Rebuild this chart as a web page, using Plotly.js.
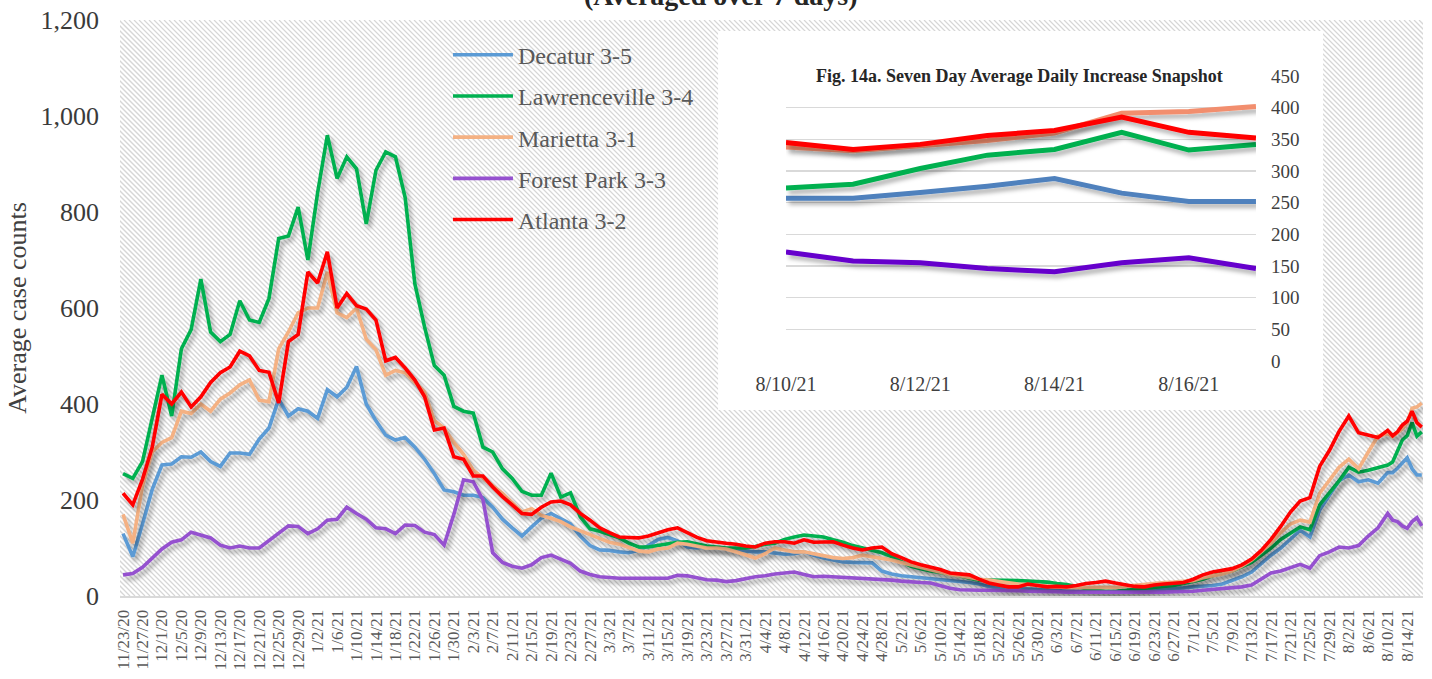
<!DOCTYPE html>
<html><head><meta charset="utf-8">
<script src="https://cdn.plot.ly/plotly-3.0.1.min.js"></script>
<style>html,body{margin:0;padding:0;background:#fff;}#chart{width:1432px;height:679px;}</style>
</head><body><div id="chart"></div>
<script>
// ---- categories ----
const seriesNames = ['Decatur 3-5','Lawrenceville 3-4','Marietta 3-1','Forest Park 3-3','Atlanta 3-2'];
const startDate = '2020-11-23';   // first category, one value every 2 days up to 8/8/21
const stepDays = 2;
const snapDates = ['2021-08-10','2021-08-11','2021-08-12','2021-08-13','2021-08-14','2021-08-15','2021-08-16','2021-08-17'];

// ---- main series (7-day averages, every 2 days 11/23/20 .. 8/8/21) ----
const decatur = [130,82,150,222,273,275,290,289,300,280,270,298,298,295,327,350,410,375,390,385,370,430,415,435,478,400,365,335,325,330,310,285,255,221,217,210,210,205,185,160,142,125,144,162,172,160,150,125,105,96,95,92,90,95,105,118,122,115,102,100,102,100,98,96,94,92,92,90,87,88,92,85,79,75,71,70,70,69,52,46,42,40,38,36,34,33,30,28,25,20,17,16,15,14,13,12,11,10,10,9,9,9,10,10,11,12,13,14,15,17,19,20,22,25,32,40,50,68,85,100,118,137,123,179,210,240,252,238,242,235];
const lawrenceville = [255,245,280,370,460,375,515,555,660,550,530,545,615,575,570,620,745,750,810,700,840,960,870,915,890,775,887,925,915,830,650,560,480,460,395,385,381,310,300,265,245,218,210,210,256,206,215,165,140,135,128,121,110,102,102,105,108,112,113,108,104,102,100,100,100,103,108,110,118,123,127,125,123,117,112,105,100,95,90,82,73,62,57,52,49,46,42,37,33,33,33,33,32,31,30,29,26,24,20,15,12,10,10,12,14,17,18,20,22,26,30,35,42,48,52,60,70,85,100,118,132,144,138,190,215,240,268,258,262,268];
const marietta = [170,110,230,300,320,330,385,380,400,385,410,423,440,450,408,405,515,550,590,600,600,675,590,580,600,535,513,460,470,465,445,425,365,350,320,295,262,245,230,214,195,175,182,168,162,155,144,135,128,120,112,108,100,94,92,98,100,110,108,104,100,100,98,92,85,79,88,100,96,92,92,88,84,80,78,80,85,82,78,75,70,65,60,56,50,45,42,38,35,33,30,27,25,24,22,20,19,18,18,18,17,17,18,20,22,24,27,28,29,30,32,38,42,46,52,62,75,92,110,132,150,158,154,214,240,268,285,265,300,333];
const forestPark = [44,47,60,78,98,112,117,133,127,121,106,100,104,100,100,115,130,146,145,130,140,158,160,185,172,160,142,140,130,148,147,133,128,106,170,242,238,200,90,70,62,58,65,80,85,77,68,52,45,40,38,37,37,37,37,37,37,43,42,38,34,33,30,32,36,40,42,46,48,50,45,40,41,40,38,37,37,35,34,33,31,29,28,27,22,16,13,12,12,12,12,12,11,10,10,9,9,8,8,7,7,7,7,7,8,8,8,8,9,9,10,12,14,15,17,19,23,35,48,52,60,66,58,84,92,102,100,105,125,142];
const atlanta = [214,190,243,310,420,400,425,394,415,445,465,477,510,500,470,466,402,530,545,675,652,717,600,630,605,598,575,490,497,475,450,415,346,350,290,285,250,250,227,207,190,172,170,185,196,198,190,172,158,142,132,123,122,121,125,132,138,142,132,122,115,112,110,108,104,102,110,113,113,110,117,112,112,113,106,100,96,100,102,88,80,71,65,60,55,48,46,44,35,27,23,19,19,25,22,19,20,19,22,26,28,31,27,23,20,19,23,25,26,28,35,44,50,54,57,65,77,95,118,145,175,198,205,270,303,343,375,340,335,330];

// ---- snapshot series (daily, 8/10/21 .. 8/17/21) ----
const decaturSnap = [257,257,266,276,288,265,252,252];
const lawrencevilleSnap = [273,279,304,325,334,361,333,342];
const mariettaSnap = [338,332,340,348,360,391,394,402];
const forestParkSnap = [172,158,155,146,141,155,163,146];
const atlantaSnap = [345,334,342,356,364,385,361,352];

// ---- tick labels ----
const tickLabels = ['11/23/20','11/27/20','12/1/20','12/5/20','12/9/20','12/13/20','12/17/20','12/21/20','12/25/20','12/29/20','1/2/21','1/6/21','1/10/21','1/14/21','1/18/21','1/22/21','1/26/21','1/30/21','2/3/21','2/7/21','2/11/21','2/15/21','2/19/21','2/23/21','2/27/21','3/3/21','3/7/21','3/11/21','3/15/21','3/19/21','3/23/21','3/27/21','3/31/21','4/4/21','4/8/21','4/12/21','4/16/21','4/20/21','4/24/21','4/28/21','5/2/21','5/6/21','5/10/21','5/14/21','5/18/21','5/22/21','5/26/21','5/30/21','6/3/21','6/7/21','6/11/21','6/15/21','6/19/21','6/23/21','6/27/21','7/1/21','7/5/21','7/9/21','7/13/21','7/17/21','7/21/21','7/25/21','7/29/21','8/2/21','8/6/21','8/10/21','8/14/21'];
const snapTickLabels = ['8/10/21','8/12/21','8/14/21','8/16/21'];

// ---- helpers ----
function labelToISO(l){const p=l.split('/').map(Number);return '20'+String(p[2]).padStart(2,'0')+'-'+String(p[0]).padStart(2,'0')+'-'+String(p[1]).padStart(2,'0');}
function dateSeq(start,n,step){const t0=Date.parse(start+'T00:00:00Z');const o=[];for(let i=0;i<n;i++){o.push(new Date(t0+i*step*86400000).toISOString().slice(0,10));}return o;}
function hatch(w,h){const c=document.createElement('canvas');c.width=w;c.height=h;const g=c.getContext('2d');g.fillStyle='#ffffff';g.fillRect(0,0,w,h);g.strokeStyle='#d6d6d6';g.lineWidth=1.25;for(let k=-h;k<w+h;k+=5){g.beginPath();g.moveTo(k,0);g.lineTo(k+h,h);g.stroke();}return c.toDataURL('image/png');}

const mainDates = dateSeq(startDate, decatur.length, stepDays).concat(snapDates);
const FONT = 'Liberation Serif, DejaVu Serif, serif';

const mainSeries = [decatur.concat(decaturSnap), lawrenceville.concat(lawrencevilleSnap), marietta.concat(mariettaSnap), forestPark.concat(forestParkSnap), atlanta.concat(atlantaSnap)];
const mainColors = ['#5B9BD5','#00B050','#F4B183','#9551CF','#FF0000'];
const snapSeries = [decaturSnap, lawrencevilleSnap, mariettaSnap, forestParkSnap, atlantaSnap];
const snapColors = ['#4F81BD','#00B050','#F28E6E','#6600CC','#FF0000'];

const traces = [];
mainSeries.forEach((ys,i)=>{traces.push({type:'scatter',mode:'lines',name:seriesNames[i],x:mainDates,y:ys,legendgroup:'g'+i,line:{color:mainColors[i],width:3.6},hoverinfo:'skip'});});
snapSeries.forEach((ys,i)=>{traces.push({type:'scatter',mode:'lines',name:seriesNames[i],x:snapDates,y:ys,xaxis:'x2',yaxis:'y2',showlegend:false,line:{color:snapColors[i],width:5},hoverinfo:'skip'});});

const W=1303,H=576;
const layout = {
  width:1432,height:679,
  margin:{l:120,r:9,t:20,b:83},
  paper_bgcolor:'#ffffff',plot_bgcolor:'rgba(0,0,0,0)',
  font:{family:FONT,color:'#404040'},
  showlegend:true,
  legend:{x:0.2517,y:0.978,xanchor:'left',yanchor:'top',bgcolor:'rgba(0,0,0,0)',font:{family:FONT,size:24,color:'#595959'},itemwidth:60,traceorder:'grouped',tracegroupgap:7},
  xaxis:{type:'date',range:['2020-11-22 09:00','2021-08-17 06:00'],tickmode:'array',tickvals:tickLabels.map(labelToISO),ticktext:tickLabels,tickangle:-90,tickfont:{family:FONT,size:17,color:'#595959'},showgrid:false,zeroline:false,showline:true,linecolor:'#d9d9d9',linewidth:2,ticks:'',ticklabelstandoff:5,fixedrange:true},
  yaxis:{range:[0,1200],dtick:200,tickformat:',',showgrid:false,zeroline:false,showline:false,ticks:'',tickfont:{family:FONT,size:26,color:'#3a3a3a'},ticklabelstandoff:20,title:{text:'Average case counts',font:{family:FONT,size:26,color:'#404040'},standoff:6},fixedrange:true},
  xaxis2:{domain:[0.5111,0.8718],anchor:'y2',type:'date',range:['2021-08-10','2021-08-17'],tickmode:'array',tickvals:snapTickLabels.map(labelToISO),ticktext:snapTickLabels,tickangle:0,tickfont:{family:FONT,size:20,color:'#404040'},showgrid:false,zeroline:false,showline:false,ticks:'',ticklabelstandoff:9,fixedrange:true},
  yaxis2:{domain:[0.408,0.9028],anchor:'x2',side:'right',range:[0,450],dtick:50,showgrid:true,gridcolor:'#d9d9d9',gridwidth:1.5,zeroline:false,showline:false,ticks:'',tickfont:{family:FONT,size:19,color:'#404040'},ticklabelstandoff:14,fixedrange:true},
  images:[{source:hatch(W,H),xref:'paper',yref:'paper',x:0,y:1,sizex:1,sizey:1,xanchor:'left',yanchor:'top',sizing:'stretch',layer:'below'}],
  shapes:[{type:'rect',xref:'paper',yref:'paper',x0:0.459,x1:0.9233,y0:0.3229,y1:0.9809,fillcolor:'#ffffff',line:{width:0},layer:'below'}],
  annotations:[
    {text:'<b>(Averaged over 7 days)</b>',xref:'paper',yref:'paper',x:0.4605,y:1,yshift:25,xanchor:'center',yanchor:'middle',showarrow:false,font:{family:FONT,size:28,color:'#262626'}},
    {text:'<b>Fig. 14a. Seven Day Average Daily Increase Snapshot</b>',xref:'paper',yref:'paper',x:0.6907,y:0.9028,xanchor:'center',yanchor:'middle',showarrow:false,bgcolor:'#ffffff',borderpad:2,font:{family:FONT,size:18,color:'#262626'}}
  ]
};

Plotly.newPlot('chart',traces,layout,{staticPlot:true,displayModeBar:false}).then(gd=>{
  const svg=gd.querySelector('svg.main-svg');const ns='http://www.w3.org/2000/svg';
  let defs=svg.querySelector('defs');if(!defs){defs=document.createElementNS(ns,'defs');svg.insertBefore(defs,svg.firstChild);}
  const f=document.createElementNS(ns,'filter');f.setAttribute('id','lshadow');f.setAttribute('filterUnits','userSpaceOnUse');f.setAttribute('x','-200');f.setAttribute('y','-200');f.setAttribute('width','3000');f.setAttribute('height','2000');
  const ds=document.createElementNS(ns,'feDropShadow');ds.setAttribute('dx','3');ds.setAttribute('dy','4');ds.setAttribute('stdDeviation','2');ds.setAttribute('flood-color','#000');ds.setAttribute('flood-opacity','0.3');
  f.appendChild(ds);defs.appendChild(f);
  gd.querySelectorAll('.cartesianlayer .scatterlayer path.js-line').forEach(p=>p.setAttribute('filter','url(#lshadow)'));
});
</script></body></html>
